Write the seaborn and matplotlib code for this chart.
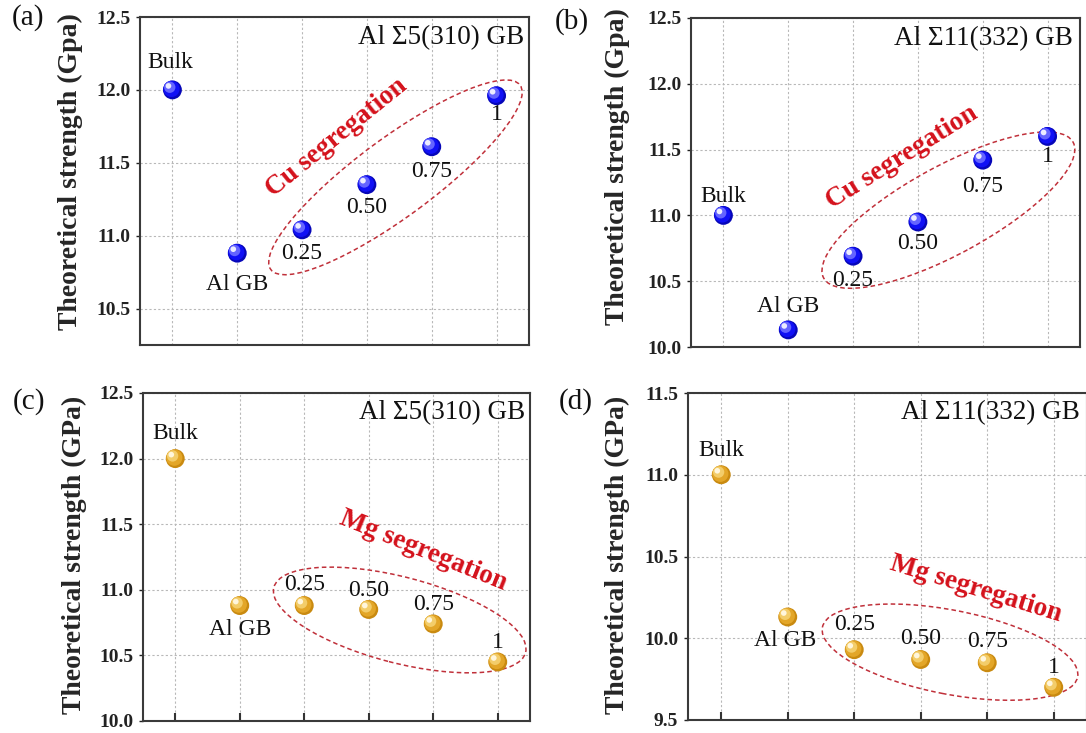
import numpy as np
import pandas as pd
import matplotlib
matplotlib.use("Agg")
import matplotlib.pyplot as plt
import seaborn as sns
from matplotlib.patches import Ellipse
from matplotlib.transforms import Affine2D, ScaledTranslation

# ---- data -------------------------------------------------------------
categories = ["Bulk", "Al GB", "0.25", "0.50", "0.75", "1"]
cu_sigma5 = [12.00, 10.88, 11.04, 11.35, 11.61, 11.96]
cu_sigma11 = [11.00, 10.13, 10.69, 10.95, 11.42, 11.60]
mg_sigma5 = [12.00, 10.88, 10.88, 10.85, 10.74, 10.45]
mg_sigma11 = [11.00, 10.13, 9.93, 9.87, 9.85, 9.70]

ticks_a = [10.5, 11.0, 11.5, 12.0, 12.5]
ticks_b = [10.0, 10.5, 11.0, 11.5, 12.0, 12.5]
ticks_c = [10.0, 10.5, 11.0, 11.5, 12.0, 12.5]
ticks_d = [9.5, 10.0, 10.5, 11.0, 11.5]

# ---- style ------------------------------------------------------------
sns.set_theme(style="white")
plt.rcParams["font.family"] = ["Liberation Serif", "DejaVu Serif"]
plt.rcParams["axes.unicode_minus"] = False

fig = plt.figure(figsize=(10.86, 7.33), dpi=100)
W, H = 1086.0, 733.0


def px_axes(left, top, right, bottom):
    return fig.add_axes([left / W, 1 - bottom / H, (right - left) / W, (bottom - top) / H])


BLUE = dict(dark="#0606b8", mid="#1010f5", light="#6464ff", hi="#ececff")
GOLD = dict(dark="#c98a10", mid="#e3a628", light="#f3cd6a", hi="#fff6dc")
RED = "#d4111b"
ELL = "#c0303a"


def spheres(ax, x, y, pal, size=185):
    """Shaded ball markers: seaborn base disc plus lighter offset layers."""
    df = pd.DataFrame({"x": x, "y": y})
    sns.scatterplot(data=df, x="x", y="y", ax=ax, s=size, color=pal["dark"],
                    edgecolor="none", linewidth=0, zorder=4, legend=False)
    r = np.sqrt(size) / 2.0  # radius in points
    layers = [(0.86, pal["mid"], 0.10), (0.60, pal["light"], 0.28), (0.30, pal["hi"], 0.42)]
    for frac, col, off in layers:
        tr = ax.transData + ScaledTranslation(-off * r / 72, off * r / 72, fig.dpi_scale_trans)
        ax.scatter(x, y, s=size * frac ** 2, color=col, edgecolor="none",
                   transform=tr, zorder=5)


def dashed_ellipse(ax, cx, cy, a_px, b_px, angle):
    tr = Affine2D() + ScaledTranslation(cx, cy, ax.transData)
    e = Ellipse((0, 0), 2 * a_px, 2 * b_px, angle=angle, transform=tr, fill=False,
                ec=ELL, lw=1.1, ls=(0, (3, 2)), clip_on=False, zorder=3)
    ax.add_patch(e)


def panel(ax, values, pal, ylim, yticks, ylabel, title, tag, tag_xy, lab_xy,
          offsets, seg_text, seg_xy, seg_rot, ell, title_xy, xticks_on):
    x = np.arange(len(categories))
    ax.set_xlim(-0.5, 5.5)
    ax.set_ylim(*ylim)
    ax.set_yticks(yticks)
    ax.set_yticklabels([f"{t:.1f}" for t in yticks], fontsize=14, fontweight="bold")
    ax.set_xticks(x)
    ax.set_xticklabels([])
    ax.grid(True, ls=(0, (2, 2)), color="#b8b8b8", lw=0.8)
    ax.set_axisbelow(True)
    for s in ax.spines.values():
        s.set_color("#3a3a3a")
        s.set_linewidth(1.5)
    ax.tick_params(axis="y", direction="out", length=3, width=1.0, pad=4,
                   colors="#222222", left=True)
    if xticks_on:
        ax.tick_params(axis="x", direction="in", length=6, width=1.5, colors="#333333",
                       bottom=True)
    else:
        ax.tick_params(axis="x", bottom=False, length=0)

    spheres(ax, x, values, pal)

    for xi, yi, lab, (dx, dy) in zip(x, values, categories, offsets):
        ax.annotate(lab, (xi, yi), xytext=(dx * 0.72, dy * 0.72), textcoords="offset points",
                    ha="center", va="center", fontsize=17, color="#111111", zorder=6)

    ax.set_xlabel("")
    ax.set_ylabel(ylabel, fontsize=20, fontweight="bold", va="center")
    ax.yaxis.set_label_coords(*lab_xy)

    ax.text(title_xy[0], title_xy[1], title, transform=ax.transAxes, ha="right",
            va="center", fontsize=19.5, color="#111111")
    fig.text(tag_xy[0] / W, 1 - tag_xy[1] / H, tag, ha="center", va="center",
             fontsize=21, color="#111111")

    ax.text(seg_xy[0], seg_xy[1], seg_text, rotation=seg_rot, rotation_mode="anchor",
            ha="center", va="center", fontsize=19.5, fontweight="bold", color=RED, zorder=6)
    dashed_ellipse(ax, *ell)


ax_a = px_axes(140, 17, 529, 345)
ax_b = px_axes(691, 18, 1080, 347)
ax_c = px_axes(143, 393, 530, 721)
ax_d = px_axes(688, 393, 1087, 720)

panel(ax_a, cu_sigma5, BLUE, (10.25, 12.5), ticks_a, "Theoretical strength (Gpa)",
      "Al \u03a35(310) GB", "(a)", (28, 18), (-0.180, 0.530),
      [(-2, 27), (0, -31), (0, -24), (0, -23), (0, -25), (0, -19)],
      "Cu segregation", (2.53, 11.67), 39, (3.44, 11.40, 155, 39, 36.5),
      (0.988, 0.936), False)

panel(ax_b, cu_sigma11, BLUE, (10.0, 12.5), ticks_b, "Theoretical strength (Gpa)",
      "Al \u03a311(332) GB", "(b)", (572, 22), (-0.190, 0.547),
      [(0, 19), (0, 23), (0, -24), (0, -22), (0, -26), (0, -20)],
      "Cu segregation", (2.75, 11.44), 32, (3.47, 11.04, 142, 44, 28.6),
      (0.982, 0.936), False)

panel(ax_c, mg_sigma5, GOLD, (10.0, 12.5), ticks_c, "Theoretical strength (GPa)",
      "Al \u03a35(310) GB", "(c)", (29, 402), (-0.178, 0.506),
      [(0, 25), (0, -24), (0, 21), (0, 19), (0, 19), (0, 19)],
      "Mg segregation", (3.85, 11.30), -22, (3.48, 10.77, 130, 43, -14.5),
      (0.987, 0.939), True)

panel(ax_d, mg_sigma11, GOLD, (9.5, 11.5), ticks_d, "Theoretical strength (GPa)",
      "Al \u03a311(332) GB", "(d)", (576, 402), (-0.178, 0.505),
      [(0, 24), (-3, -24), (0, 25), (0, 21), (0, 21), (0, 20)],
      "Mg segregation", (3.83, 10.30), -17, (3.44, 9.915, 130, 42, -11),
      (0.982, 0.939), True)

fig.savefig("out.png", dpi=100)
